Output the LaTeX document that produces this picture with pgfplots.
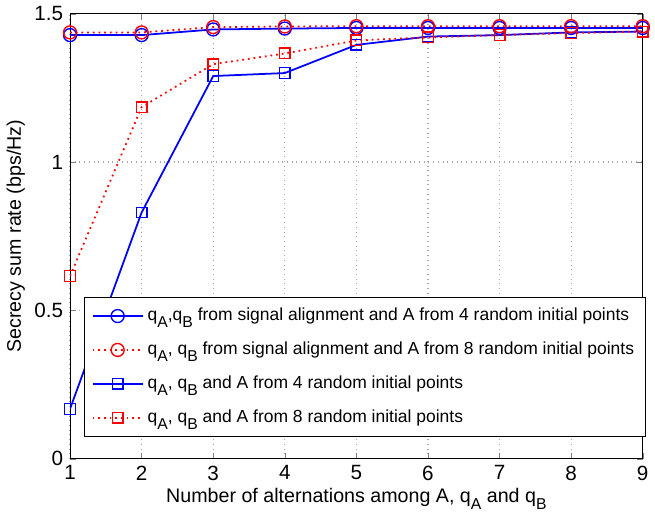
\documentclass[border=0pt]{standalone}
\usepackage{pgfplots}
\pgfplotsset{compat=1.18}
\usepackage{fontspec}
\setmainfont{Liberation Sans}
\newcommand\sub[1]{\raisebox{-0.7ex}{\footnotesize #1}}
\begin{document}
\begin{tikzpicture}
\begin{axis}[
  scale only axis,
  width=291.5pt, height=226.5pt,
  xmin=1, xmax=9, ymin=0, ymax=1.5,
  xtick={1,2,...,9}, ytick={0,0.5,1,1.5},
  yticklabels={0,0.5,1,1.5},
  tick align=inside,
  tick pos=both,
  major tick length=3pt,
  grid=major,
  grid style={dotted, gray!70, line width=0.6pt},
  axis line style={black, line width=0.5pt},
  font=\fontsize{10}{12}\selectfont,
  tick label style={font=\fontsize{10.5}{12}\selectfont},
  /pgf/number format/assume math mode=true,
  xlabel={Number of alternations among A, q\sub{A} and q\sub{B}},
  ylabel={Secrecy sum rate (bps/Hz)},
  xlabel style={font=\fontsize{10}{12}\selectfont, yshift=3pt},
  ylabel style={font=\fontsize{10}{12}\selectfont, yshift=-2pt},
  legend style={at={(axis cs:1.2,0.545)}, anchor=north west, draw=black, fill=white,
    font=\fontsize{8.9}{11}\selectfont, row sep=5.3pt, inner sep=3.5pt, cells={anchor=west}},
  legend image code/.code={\draw[mark repeat=2,mark phase=2] plot coordinates {(0cm,0cm)(0.45cm,0cm)(0.9cm,0cm)};},
]
\addplot[blue, line width=0.9pt, mark=o, mark size=3.3pt, mark options={solid, line width=0.7pt}] coordinates {
(1,1.428)(2,1.428)(3,1.447)(4,1.450)(5,1.452)(6,1.452)(7,1.452)(8,1.452)(9,1.452)};
\addlegendentry{q\sub{A},q\sub{B} from signal alignment and A from 4 random initial points}
\addplot[red, dotted, line width=0.9pt, mark=o, mark size=3.3pt, mark options={solid, line width=0.7pt}] coordinates {
(1,1.437)(2,1.437)(3,1.455)(4,1.457)(5,1.458)(6,1.458)(7,1.458)(8,1.458)(9,1.458)};
\addlegendentry{q\sub{A}, q\sub{B} from signal alignment and A from 8 random initial points}
\addplot[blue, line width=0.9pt, mark=square, mark size=2.7pt, mark options={solid, line width=0.7pt}] coordinates {
(1,0.168)(2,0.830)(3,1.290)(4,1.300)(5,1.395)(6,1.423)(7,1.428)(8,1.437)(9,1.440)};
\addlegendentry{q\sub{A}, q\sub{B} and A from 4 random initial points}
\addplot[red, dotted, line width=0.9pt, mark=square, mark size=2.7pt, mark options={solid, line width=0.7pt}] coordinates {
(1,0.616)(2,1.185)(3,1.330)(4,1.366)(5,1.410)(6,1.420)(7,1.428)(8,1.435)(9,1.440)};
\addlegendentry{q\sub{A}, q\sub{B} and A from 8 random initial points}
\end{axis}
\end{tikzpicture}
\end{document}
